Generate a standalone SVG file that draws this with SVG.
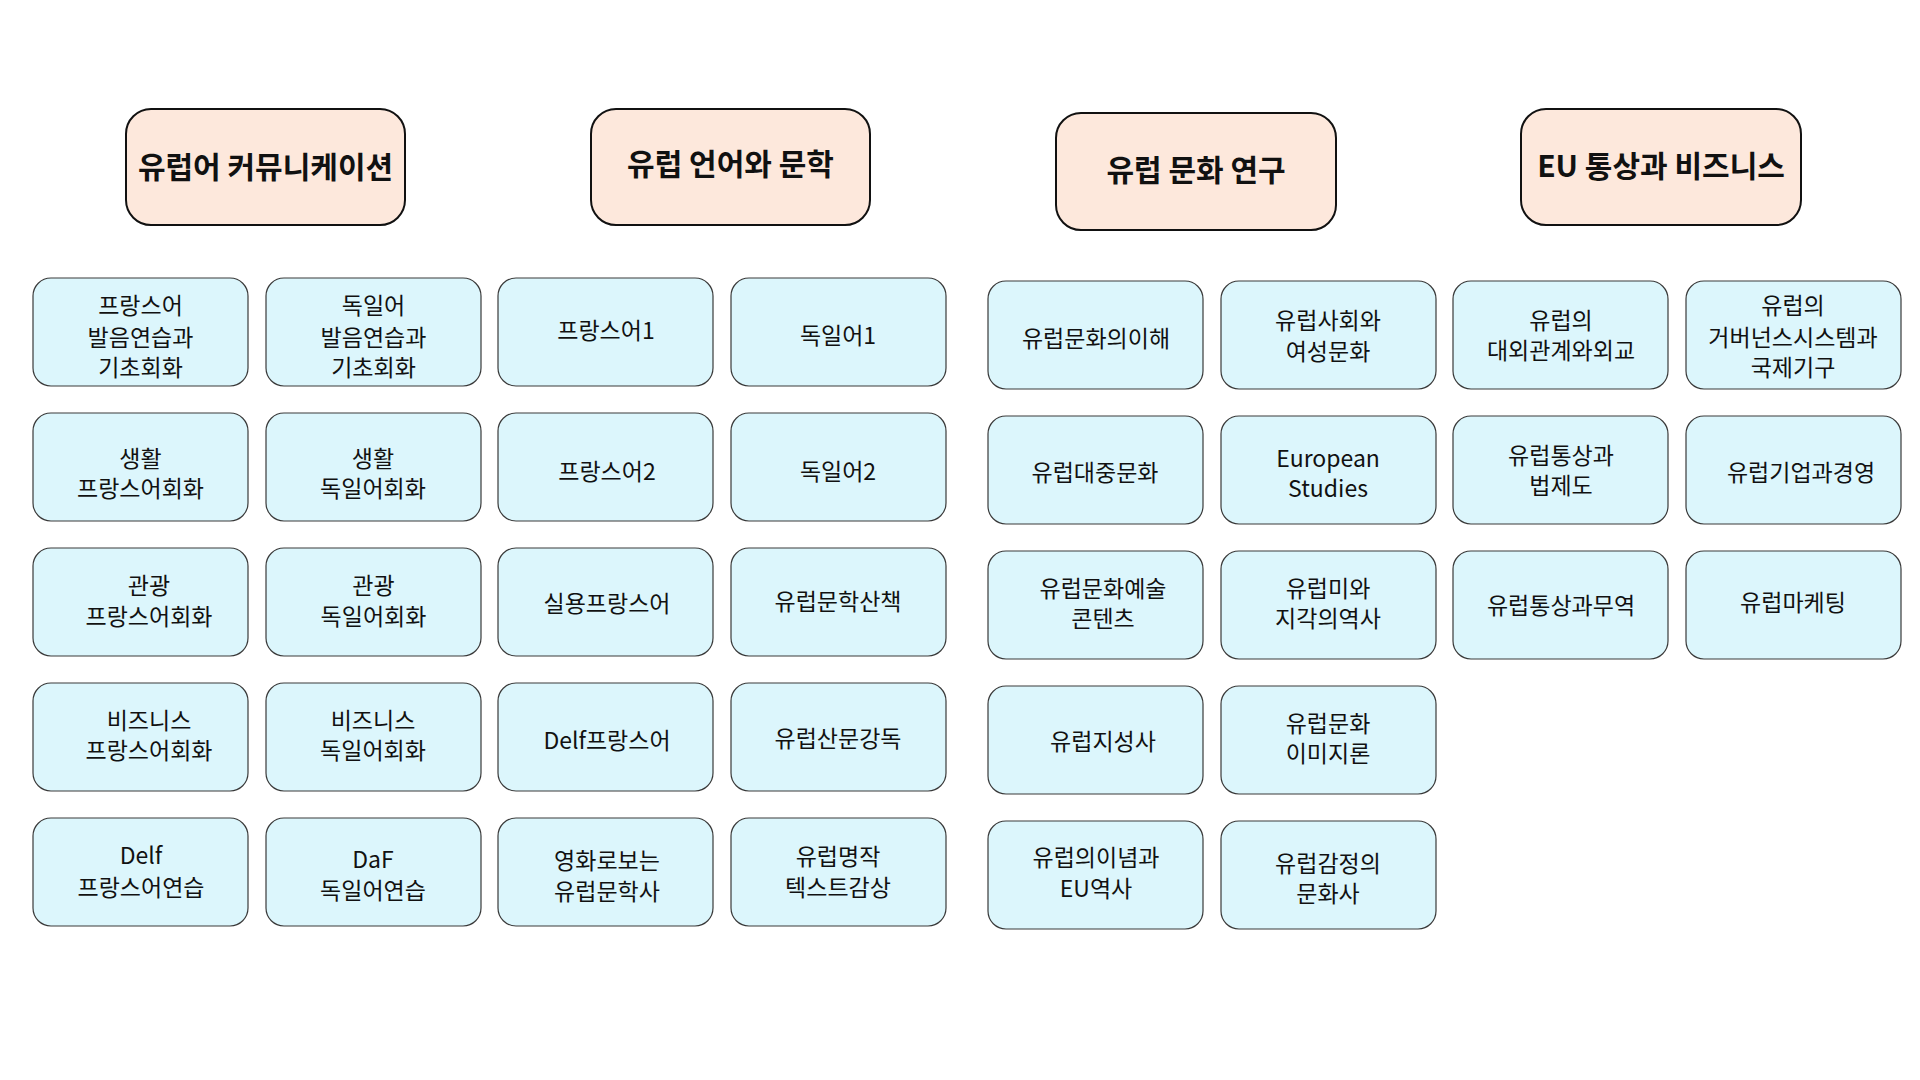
<svg xmlns="http://www.w3.org/2000/svg" width="1920" height="1080" viewBox="0 0 1920 1080">
<style>
text{font-family:"Noto Sans CJK KR","Noto Sans",sans-serif;fill:#111;text-anchor:middle}
.h rect{fill:#fde8dc;stroke:#111;stroke-width:2}
.h text{font-size:30px;font-weight:bold}
.n rect{fill:#dcf6fc;stroke:#3a3a3a;stroke-width:1.2}
.n text{font-size:23px}
</style>
<rect width="1920" height="1080" fill="#fff"/>
<g id="connectors"/>
<g id="h1" class="h"><rect x="126" y="109" width="279" height="116" rx="25"/><text x="265.5" y="178">유럽어 커뮤니케이션</text></g>
<g id="h2" class="h"><rect x="591" y="109" width="279" height="116" rx="25"/><text x="730.5" y="175">유럽 언어와 문학</text></g>
<g id="h3" class="h"><rect x="1056" y="113" width="280" height="117" rx="25"/><text x="1196" y="181">유럽 문화 연구</text></g>
<g id="h4" class="h"><rect x="1521" y="109" width="280" height="116" rx="25"/><text x="1661" y="177">EU 통상과 비즈니스</text></g>

<g id="n1" class="n"><rect x="33" y="278" width="215" height="108" rx="18"/><text x="140.5" y="314">프랑스어</text><text x="140.5" y="346">발음연습과</text><text x="140.5" y="376">기초회화</text></g>
<g id="n2" class="n"><rect x="266" y="278" width="215" height="108" rx="18"/><text x="373.5" y="314">독일어</text><text x="373.5" y="346">발음연습과</text><text x="373.5" y="376">기초회화</text></g>
<g id="n3" class="n"><rect x="33" y="413" width="215" height="108" rx="18"/><text x="140.5" y="467">생활</text><text x="140.5" y="497">프랑스어회화</text></g>
<g id="n4" class="n"><rect x="266" y="413" width="215" height="108" rx="18"/><text x="373" y="467">생활</text><text x="373" y="497">독일어회화</text></g>
<g id="n5" class="n"><rect x="33" y="548" width="215" height="108" rx="18"/><text x="149" y="594">관광</text><text x="149" y="625">프랑스어회화</text></g>
<g id="n6" class="n"><rect x="266" y="548" width="215" height="108" rx="18"/><text x="373.5" y="594">관광</text><text x="373.5" y="625">독일어회화</text></g>
<g id="n7" class="n"><rect x="33" y="683" width="215" height="108" rx="18"/><text x="149" y="729">비즈니스</text><text x="149" y="759">프랑스어회화</text></g>
<g id="n8" class="n"><rect x="266" y="683" width="215" height="108" rx="18"/><text x="373" y="729">비즈니스</text><text x="373" y="759">독일어회화</text></g>
<g id="n9" class="n"><rect x="33" y="818" width="215" height="108" rx="18"/><text x="141" y="864">Delf</text><text x="141" y="896">프랑스어연습</text></g>
<g id="n10" class="n"><rect x="266" y="818" width="215" height="108" rx="18"/><text x="373" y="868">DaF</text><text x="373" y="899">독일어연습</text></g>

<g id="n11" class="n"><rect x="498" y="278" width="215" height="108" rx="18"/><text x="606" y="339">프랑스어1</text></g>
<g id="n12" class="n"><rect x="731" y="278" width="215" height="108" rx="18"/><text x="838" y="344">독일어1</text></g>
<g id="n13" class="n"><rect x="498" y="413" width="215" height="108" rx="18"/><text x="607" y="480">프랑스어2</text></g>
<g id="n14" class="n"><rect x="731" y="413" width="215" height="108" rx="18"/><text x="838" y="480">독일어2</text></g>
<g id="n15" class="n"><rect x="498" y="548" width="215" height="108" rx="18"/><text x="607" y="612">실용프랑스어</text></g>
<g id="n16" class="n"><rect x="731" y="548" width="215" height="108" rx="18"/><text x="838" y="610">유럽문학산책</text></g>
<g id="n17" class="n"><rect x="498" y="683" width="215" height="108" rx="18"/><text x="607" y="749">Delf프랑스어</text></g>
<g id="n18" class="n"><rect x="731" y="683" width="215" height="108" rx="18"/><text x="838" y="747">유럽산문강독</text></g>
<g id="n19" class="n"><rect x="498" y="818" width="215" height="108" rx="18"/><text x="607" y="869">영화로보는</text><text x="607" y="900">유럽문학사</text></g>
<g id="n20" class="n"><rect x="731" y="818" width="215" height="108" rx="18"/><text x="838" y="865">유럽명작</text><text x="838" y="896">텍스트감상</text></g>

<g id="n21" class="n"><rect x="988" y="281" width="215" height="108" rx="18"/><text x="1096" y="347">유럽문화의이해</text></g>
<g id="n22" class="n"><rect x="1221" y="281" width="215" height="108" rx="18"/><text x="1328" y="329">유럽사회와</text><text x="1328" y="360">여성문화</text></g>
<g id="n23" class="n"><rect x="988" y="416" width="215" height="108" rx="18"/><text x="1095" y="481">유럽대중문화</text></g>
<g id="n24" class="n"><rect x="1221" y="416" width="215" height="108" rx="18"/><text x="1328" y="467">European</text><text x="1328" y="497">Studies</text></g>
<g id="n25" class="n"><rect x="988" y="551" width="215" height="108" rx="18"/><text x="1103" y="597">유럽문화예술</text><text x="1103" y="627">콘텐츠</text></g>
<g id="n26" class="n"><rect x="1221" y="551" width="215" height="108" rx="18"/><text x="1328" y="597">유럽미와</text><text x="1328" y="627">지각의역사</text></g>
<g id="n27" class="n"><rect x="988" y="686" width="215" height="108" rx="18"/><text x="1103" y="750">유럽지성사</text></g>
<g id="n28" class="n"><rect x="1221" y="686" width="215" height="108" rx="18"/><text x="1328" y="732">유럽문화</text><text x="1328" y="762">이미지론</text></g>
<g id="n29" class="n"><rect x="988" y="821" width="215" height="108" rx="18"/><text x="1096" y="866">유럽의이념과</text><text x="1096" y="897">EU역사</text></g>
<g id="n30" class="n"><rect x="1221" y="821" width="215" height="108" rx="18"/><text x="1328" y="872">유럽감정의</text><text x="1328" y="902">문화사</text></g>

<g id="n31" class="n"><rect x="1453" y="281" width="215" height="108" rx="18"/><text x="1561" y="329">유럽의</text><text x="1561" y="359">대외관계와외교</text></g>
<g id="n32" class="n"><rect x="1686" y="281" width="215" height="108" rx="18"/><text x="1793" y="314">유럽의</text><text x="1793" y="346">거버넌스시스템과</text><text x="1793" y="376">국제기구</text></g>
<g id="n33" class="n"><rect x="1453" y="416" width="215" height="108" rx="18"/><text x="1561" y="464">유럽통상과</text><text x="1561" y="494">법제도</text></g>
<g id="n34" class="n"><rect x="1686" y="416" width="215" height="108" rx="18"/><text x="1801" y="481">유럽기업과경영</text></g>
<g id="n35" class="n"><rect x="1453" y="551" width="215" height="108" rx="18"/><text x="1561" y="614">유럽통상과무역</text></g>
<g id="n36" class="n"><rect x="1686" y="551" width="215" height="108" rx="18"/><text x="1793" y="611">유럽마케팅</text></g>
</svg>
